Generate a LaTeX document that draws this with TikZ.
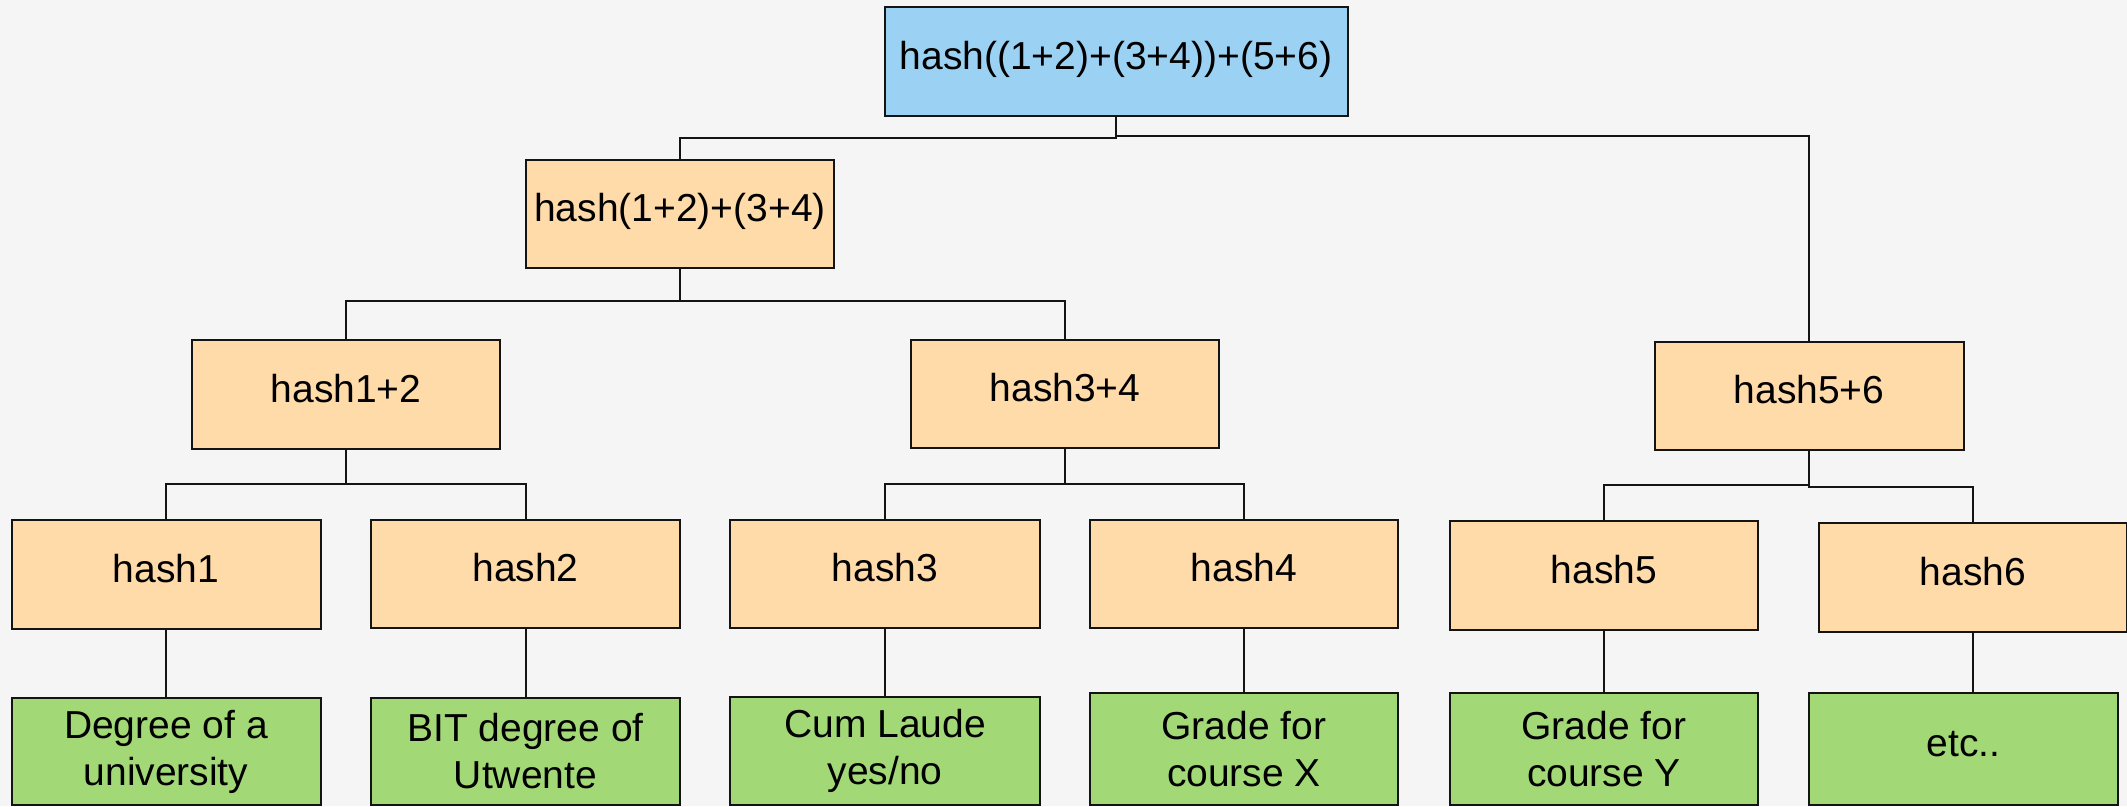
\documentclass[tikz,border=0pt]{standalone}
\usepackage{fontspec}
\setmainfont{Liberation Sans}
\definecolor{bgc}{RGB}{245,245,245}
\definecolor{bluefill}{RGB}{155,210,243}
\definecolor{orangefill}{RGB}{255,219,169}
\definecolor{greenfill}{RGB}{162,217,118}
\definecolor{edgec}{RGB}{20,20,20}
\begin{document}
\begin{tikzpicture}[x=1pt,y=-1pt,
  box/.style={draw=edgec, line width=2pt, minimum width=308pt, minimum height=108pt,
    inner sep=0pt, align=center, font=\fontsize{39}{47}\selectfont},
  oneline/.style={text height=28pt, text depth=13pt},
  rootbox/.style={box, oneline, fill=bluefill, minimum width=463pt, minimum height=109pt},
  hashbox/.style={box, oneline, fill=orangefill},
  leafbox/.style={box, fill=greenfill, minimum width=309pt},
  link/.style={draw=edgec, line width=2pt}]
\fill[bgc] (0,0) rectangle (2127,806);
\useasboundingbox (0,0) rectangle (2127,806);

% nodes
\node[rootbox] (root) at (1116,61.5) {hash((1+2)+(3+4))+(5+6)};
\node[hashbox] (l2) at (680,214) {hash(1+2)+(3+4)};
\node[hashbox, minimum height=109pt] (h12) at (346,394.5) {hash1+2};
\node[hashbox] (h34) at (1065,394) {hash3+4};
\node[hashbox, minimum width=309pt] (h56) at (1809,396) {hash5+6};
\node[hashbox, minimum width=309pt, minimum height=109pt] (h1) at (166,574.5) {hash1};
\node[hashbox, minimum width=309pt] (h2) at (525.5,574) {hash2};
\node[hashbox, minimum width=310pt] (h3) at (885,574) {hash3};
\node[hashbox] (h4) at (1244,574) {hash4};
\node[hashbox, minimum height=109pt] (h5) at (1604,575.5) {hash5};
\node[hashbox, minimum height=109pt] (h6) at (1973,577.5) {hash6};

\node[leafbox, minimum height=107pt] (g1) at (166,751.5) {Degree of a\\university};
\node[leafbox, minimum height=107pt] (g2) at (525.5,751.5) {BIT degree of\\Utwente};
\node[leafbox, minimum width=310pt, minimum height=108pt] (g3) at (885,751) {Cum Laude\\yes/no};
\node[leafbox, minimum width=308pt, minimum height=112pt] (g4) at (1244,749) {Grade for\\course X};
\node[leafbox, minimum width=308pt, minimum height=112pt] (g5) at (1604,749) {Grade for\\course Y};
\node[leafbox, oneline, minimum height=112pt] (g6) at (1963.5,749) {etc..};

% bus coordinates
\coordinate (b0l) at (1116,137.5);
\coordinate (b0r) at (1116,136);
\coordinate (b1) at (680,301);
\coordinate (b2) at (346,484);
\coordinate (b3) at (1065,484);
\coordinate (b4l) at (1809,485);
\coordinate (b4r) at (1809,486.5);

% connectors
\draw[link] (root.south) -- (b0l) -| (l2.north);
\draw[link] (root.south) -- (b0r) -| (h56.north);
\draw[link] (l2.south) -- (b1) -| (h12.north);
\draw[link] (l2.south) -- (b1) -| (h34.north);
\draw[link] (h12.south) -- (b2) -| (h1.north);
\draw[link] (h12.south) -- (b2) -| (h2.north);
\draw[link] (h34.south) -- (b3) -| (h3.north);
\draw[link] (h34.south) -- (b3) -| (h4.north);
\draw[link] (h56.south) -- (b4l) -| (h5.north);
\draw[link] (h56.south) -- (b4r) -| (h6.north);

\draw[link] (h1.south) -- (h1.south |- g1.north);
\draw[link] (h2.south) -- (h2.south |- g2.north);
\draw[link] (h3.south) -- (h3.south |- g3.north);
\draw[link] (h4.south) -- (h4.south |- g4.north);
\draw[link] (h5.south) -- (h5.south |- g5.north);
\draw[link] (h6.south) -- (h6.south |- g6.north);
\end{tikzpicture}
\end{document}
